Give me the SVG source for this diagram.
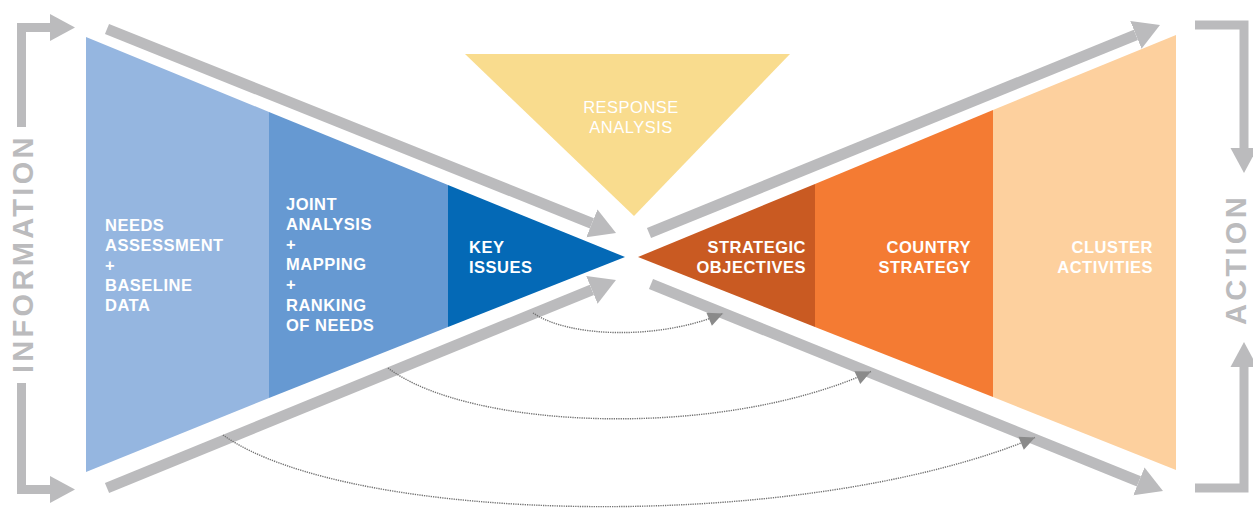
<svg xmlns="http://www.w3.org/2000/svg" width="1253" height="508" viewBox="0 0 1253 508">
<defs>
<style>
.lbl{font-family:"Liberation Sans",Arial,Helvetica,sans-serif;font-size:16.5px;font-weight:bold;fill:#ffffff;letter-spacing:0.5px}
.lblr{font-family:"Liberation Sans",Arial,Helvetica,sans-serif;font-size:16.5px;font-weight:normal;fill:#ffffff;letter-spacing:0.5px}
.side{font-family:"Liberation Sans",Arial,Helvetica,sans-serif;font-size:29px;font-weight:bold;fill:#bbbbbd;letter-spacing:3.3px}
.big{fill:none;stroke:#bbbbbd;stroke-width:11;stroke-linecap:butt}
.brk{fill:none;stroke:#bbbbbd;stroke-width:9;stroke-linejoin:miter;stroke-linecap:butt}
.dot{fill:none;stroke:#737373;stroke-width:1.4;stroke-dasharray:1.3 1}
</style>
<marker id="bigHead" markerUnits="userSpaceOnUse" viewBox="0 -16 27 32" markerWidth="27" markerHeight="32" refX="0" refY="0" orient="auto">
<path d="M0,-15 L26,0 L0,15 Z" fill="#bbbbbd"/>
</marker>
<marker id="brkHead" markerUnits="userSpaceOnUse" viewBox="0 -14 26 28" markerWidth="26" markerHeight="28" refX="0" refY="0" orient="auto">
<path d="M0,-13.5 L25,0 L0,13.5 Z" fill="#bbbbbd"/>
</marker>
<marker id="smallHead" markerUnits="userSpaceOnUse" viewBox="-16 -8 17 16" markerWidth="17" markerHeight="16" refX="0" refY="0" orient="auto">
<path d="M0,0 L-15,-7 L-15,7 Z" fill="#8a8a8a"/>
</marker>
</defs>
<rect width="1253" height="508" fill="#ffffff"/>

<g id="needs-assessment">
<polygon points="86,37 269,112 269,398 86,472" fill="#95b6e0"/>
<text class="lbl"><tspan x="105" y="231">NEEDS</tspan><tspan x="105" y="251">ASSESSMENT</tspan><tspan x="105" y="271">+</tspan><tspan x="105" y="291">BASELINE</tspan><tspan x="105" y="311">DATA</tspan></text>
</g>
<g id="joint-analysis">
<polygon points="269,112 448,185 448,327 269,398" fill="#6699d2"/>
<text class="lbl"><tspan x="286" y="210">JOINT</tspan><tspan x="286" y="230">ANALYSIS</tspan><tspan x="286" y="250">+</tspan><tspan x="286" y="270">MAPPING</tspan><tspan x="286" y="290">+</tspan><tspan x="286" y="311">RANKING</tspan><tspan x="286" y="331">OF NEEDS</tspan></text>
</g>
<g id="key-issues">
<polygon points="448,185 625,257 448,327" fill="#0469b6"/>
<text class="lbl"><tspan x="469" y="253">KEY</tspan><tspan x="469" y="273">ISSUES</tspan></text>
</g>
<g id="response-analysis">
<polygon points="465,54 790,54 634,216" fill="#f9dc8e"/>
<text class="lblr" text-anchor="middle"><tspan x="631" y="113">RESPONSE</tspan><tspan x="631" y="133">ANALYSIS</tspan></text>
</g>
<g id="strategic-objectives">
<polygon points="638,257 815,184 815,327" fill="#c95a22"/>
<text class="lbl" text-anchor="end"><tspan x="806" y="253">STRATEGIC</tspan><tspan x="806" y="273">OBJECTIVES</tspan></text>
</g>
<g id="country-strategy">
<polygon points="815,184 993,110 993,397 815,327" fill="#f47b33"/>
<text class="lbl" text-anchor="end"><tspan x="971" y="253">COUNTRY</tspan><tspan x="971" y="273">STRATEGY</tspan></text>
</g>
<g id="cluster-activities">
<polygon points="993,110 1176,35 1176,470 993,397" fill="#fdd09e"/>
<text class="lbl" text-anchor="end"><tspan x="1153" y="253">CLUSTER</tspan><tspan x="1153" y="273">ACTIVITIES</tspan></text>
</g>

<g id="information">
<text class="side" transform="translate(33,373) rotate(-90)">INFORMATION</text>
</g>
<g id="action">
<text class="side" transform="translate(1246,325) rotate(-90)">ACTION</text>
</g>

<g id="connectors">
<line class="big" x1="107" y1="29" x2="591.9" y2="223.3" marker-end="url(#bigHead)"/>
<line class="big" x1="107" y1="488" x2="591.9" y2="289.8" marker-end="url(#bigHead)"/>
<line class="big" x1="649" y1="233" x2="1135.9" y2="34.8" marker-end="url(#bigHead)"/>
<line class="big" x1="651" y1="284" x2="1138.9" y2="481.3" marker-end="url(#bigHead)"/>

<path class="brk" d="M21.5,127 V27.5 H50" marker-end="url(#brkHead)"/>
<path class="brk" d="M21.5,383 V489.5 H50" marker-end="url(#brkHead)"/>
<path class="brk" d="M1195,25 H1244 V148" marker-end="url(#brkHead)"/>
<path class="brk" d="M1195,488 H1244 V367" marker-end="url(#brkHead)"/>

<path class="dot" d="M533,313 C570,338 660,340 723,313.5" marker-end="url(#smallHead)"/>
<path class="dot" d="M388,368 C470,430 720,440 871,371.5" marker-end="url(#smallHead)"/>
<path class="dot" d="M223,435 C350,525 800,535 1035,437.5" marker-end="url(#smallHead)"/>
</g>
</svg>
